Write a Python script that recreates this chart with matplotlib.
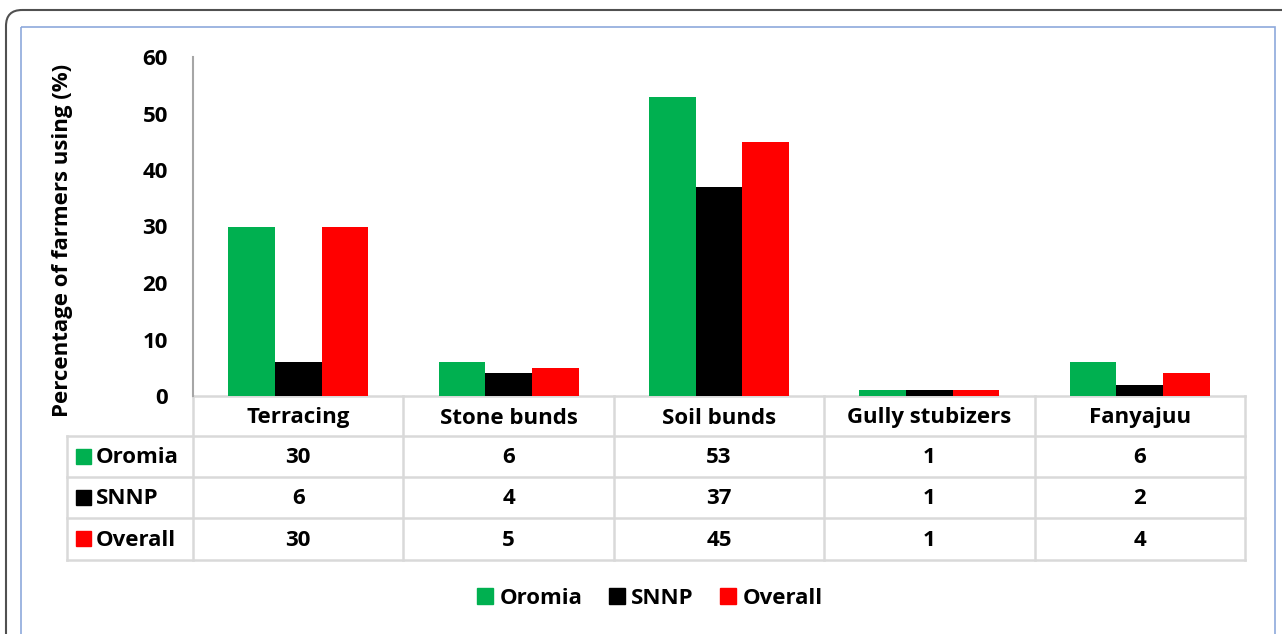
import numpy as np
import matplotlib
matplotlib.use('Agg')
import matplotlib.pyplot as plt
from matplotlib.patches import Patch, FancyBboxPatch, Rectangle

plt.rcParams['font.family'] = ['Open Sans', 'DejaVu Sans']
plt.rcParams['font.weight'] = 'bold'

# ------------------------------------------------------------
# Data
# ------------------------------------------------------------
categories = ['Terracing', 'Stone bunds', 'Soil bunds', 'Gully stubizers', 'Fanyajuu']
series_names = ['Oromia', 'SNNP', 'Overall']
oromia = [30, 6, 53, 1, 6]
snnp = [6, 4, 37, 1, 2]
overall = [30, 5, 45, 1, 4]
colors = ['#00B050', '#000000', '#FF0000']
yticks = [0, 10, 20, 30, 40, 50, 60]

series = [oromia, snnp, overall]
FS = 16

W, H = 1282, 634
fig = plt.figure(figsize=(W / 100, H / 100), dpi=100)

# overlay in pixel coordinates for frame and table
ov = fig.add_axes([0, 0, 1, 1], zorder=0)
ov.set_xlim(0, W)
ov.set_ylim(H, 0)
ov.axis('off')

# outer rounded border and inner blue frame
ov.add_patch(FancyBboxPatch((6, 10), 1320, 700, boxstyle='round,pad=0,rounding_size=16',
                            fill=False, ec='#505050', lw=1.5, clip_on=False))
ov.add_patch(Rectangle((21, 27), 1254, 700, fill=False, ec='#8EA9DB', lw=1.2, clip_on=False))

# main bar axes
x0, x1, ytop, ybot = 193, 1245, 57, 396
ax = fig.add_axes([x0 / W, 1 - ybot / H, (x1 - x0) / W, (ybot - ytop) / H], zorder=2)
ax.patch.set_alpha(0)

x = np.arange(len(categories))
bw = 0.222
for i, (vals, c, name) in enumerate(zip(series, colors, series_names)):
    ax.bar(x + (i - 1) * bw, vals, width=bw, color=c, label=name)

ax.set_xlim(-0.5, len(categories) - 0.5)
ax.set_ylim(0, 60)
ax.set_yticks(yticks)
ax.set_yticklabels([str(t) for t in yticks], fontsize=FS, fontweight='bold')
ax.tick_params(axis='y', length=0, pad=18)
ax.set_xticks([])
for s in ['top', 'right', 'bottom']:
    ax.spines[s].set_visible(False)
ax.spines['left'].set_color('#A6A6A6')
ax.spines['left'].set_linewidth(1.5)
ax.set_ylabel('Percentage of farmers using (%)', fontsize=FS, fontweight='bold')
ax.yaxis.set_label_coords((73 - x0) / (x1 - x0), 0.46)

# data table
grid_c = '#D9D9D9'
lx = 67
row_y = [396, 436, 477, 518, 560]
col_x = np.linspace(x0, x1, len(categories) + 1)
ov.plot([x0, x1], [row_y[0], row_y[0]], color=grid_c, lw=1.8)
for yy in row_y[1:]:
    ov.plot([lx, x1], [yy, yy], color=grid_c, lw=1.8)
for xx in col_x:
    ov.plot([xx, xx], [row_y[0], row_y[-1]], color=grid_c, lw=1.8)
ov.plot([lx, lx], [row_y[1], row_y[-1]], color=grid_c, lw=1.8)

centers = (col_x[:-1] + col_x[1:]) / 2
for cx, cat in zip(centers, categories):
    ov.text(cx, (row_y[0] + row_y[1]) / 2 + 2, cat, ha='center', va='center',
            fontsize=FS, fontweight='bold')
for r, (vals, c, name) in enumerate(zip(series, colors, series_names)):
    cy = (row_y[r + 1] + row_y[r + 2]) / 2
    ov.add_patch(Rectangle((76, cy - 8), 15, 15, color=c))
    ov.text(96, cy + 1, name, ha='left', va='center', fontsize=FS, fontweight='bold')
    for cx, v in zip(centers, vals):
        ov.text(cx, cy + 1, str(v), ha='center', va='center', fontsize=FS, fontweight='bold')

# legend
handles = [Patch(color=c, label=n) for c, n in zip(colors, series_names)]
fig.legend(handles=handles, loc='center', bbox_to_anchor=(650 / W, 1 - 598 / H), ncol=3,
           frameon=False, prop={'size': FS, 'weight': 'bold'},
           handlelength=0.7, handleheight=0.7, handletextpad=0.3, columnspacing=1.2)

fig.savefig('out.png', dpi=100)
